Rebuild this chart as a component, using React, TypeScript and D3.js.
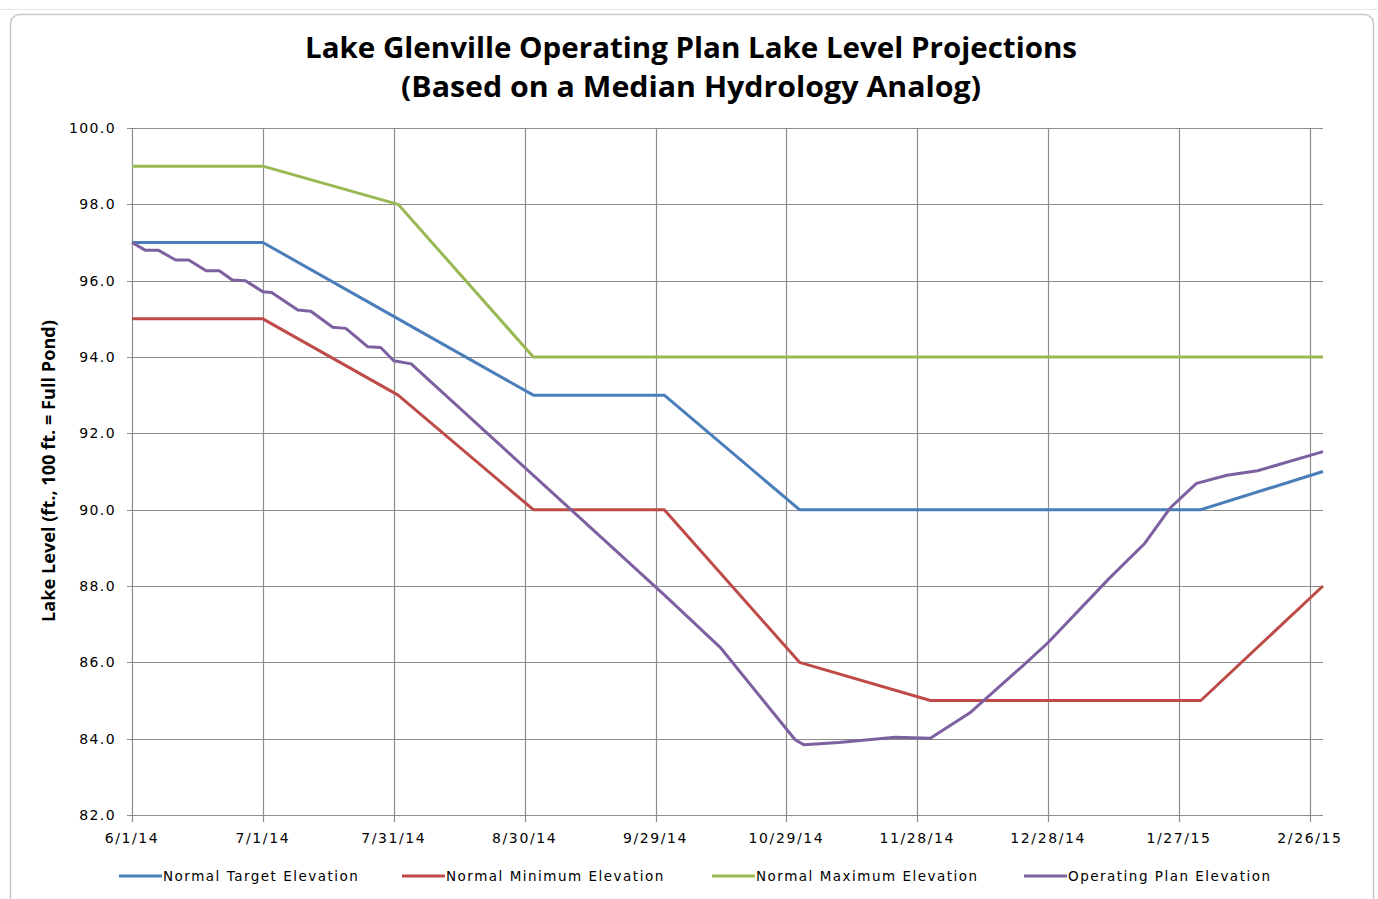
import React from "react";
import * as d3 from "d3";

const monthDates = ["6/1/14", "7/1/14", "8/1/14", "9/1/14", "10/1/14", "11/1/14", "12/1/14", "1/1/15", "2/1/15", "3/1/15"];
const targetValues = [97, 97, 95, 93, 93, 90, 90, 90, 90, 91];
const minimumValues = [95, 95, 93, 90, 90, 86, 85, 85, 85, 88];
const maximumValues = [99, 99, 98, 94, 94, 94, 94, 94, 94, 94];

const planDates = [
  "6/1/14", "6/4/14", "6/7/14", "6/11/14", "6/14/14", "6/18/14", "6/21/14", "6/24/14", "6/27/14",
  "7/1/14", "7/3/14", "7/9/14", "7/12/14", "7/17/14", "7/20/14", "7/25/14", "7/28/14", "7/31/14",
  "8/4/14", "10/1/14", "10/14/14", "10/31/14", "11/2/14", "11/10/14", "11/23/14", "12/1/14",
  "12/10/14", "12/22/14", "12/28/14", "1/11/15", "1/19/15", "1/25/15", "1/31/15", "2/7/15", "2/14/15", "3/1/15",
];
const planValues = [
  97.0, 96.8, 96.8, 96.54, 96.54, 96.26, 96.26, 96.02, 96.0,
  95.71, 95.69, 95.23, 95.2, 94.78, 94.75, 94.27, 94.25, 93.9,
  93.82, 87.77, 86.37, 83.97, 83.84, 83.9, 84.04, 84.01,
  84.67, 85.89, 86.52, 88.2, 89.1, 90.05, 90.69, 90.9, 91.02, 91.52,
];

const xTickLabels = ["6/1/14", "7/1/14", "7/31/14", "8/30/14", "9/29/14", "10/29/14", "11/28/14", "12/28/14", "1/27/15", "2/26/15"];
const xDomainLabels = ["6/1/14", "3/1/15"];
const yDomain = [82, 100];
const yTickStep = 2;

const seriesNames = ["Normal Target Elevation", "Normal Minimum Elevation", "Normal Maximum Elevation", "Operating Plan Elevation"];
const seriesColors = ["#4A7EBB", "#BE4B48", "#98B954", "#7D60A0"];

const titleLines = ["Lake Glenville Operating Plan Lake Level Projections", "(Based on a Median Hydrology Analog)"];
const yAxisTitle = "Lake Level (ft., 100 ft. = Full Pond)";

const parse = d3.utcParse("%m/%d/%y");

export default function App() {
  const W = 1378, H = 899;
  const left = 132, right = 1323, top = 128, bottom = 815;
  const x = d3.scaleUtc().domain(xDomainLabels.map((s) => parse(s) as Date)).range([left, right]);
  const y = d3.scaleLinear().domain(yDomain).range([bottom, top]);
  const yTicks = d3.range(yDomain[0], yDomain[1] + 0.001, yTickStep);
  const xTicks = xTickLabels.map((s) => parse(s) as Date);

  const line = d3
    .line<[Date, number]>()
    .x((d) => x(d[0]))
    .y((d) => y(d[1]));

  const monthly = monthDates.map((s) => parse(s) as Date);
  const series: [Date, number][][] = [
    monthly.map((d, i) => [d, targetValues[i]]),
    monthly.map((d, i) => [d, minimumValues[i]]),
    monthly.map((d, i) => [d, maximumValues[i]]),
    planDates.map((s, i) => [parse(s) as Date, planValues[i]]),
  ];

  const gridColor = "#8C8C8C";
  const tickFont = "'DejaVu Sans', Verdana, sans-serif";
  const titleFont = "'Open Sans', 'Noto Sans', sans-serif";

  const legendX = [119, 402, 712, 1024];

  return (
    <svg
      width={W}
      height={H}
      style={{ position: "absolute", left: 0, top: 0, background: "#fff" }}
    >
      <line x1={0} x2={W} y1={9.5} y2={9.5} stroke="#e6e6e6" />
      <rect x={10.5} y={14.5} width={1363} height={920} rx={9} fill="#fff" stroke="#c9c9c9" strokeWidth={1.5} />

      {titleLines.map((t, i) => (
        <text
          key={i}
          x={691}
          y={58 + i * 39}
          textAnchor="middle"
          fontFamily={titleFont}
          fontWeight="bold"
          fontSize={28}
          fill="#000"
          textLength={i === 0 ? 772 : 580}
          lengthAdjust="spacingAndGlyphs"
        >
          {t}
        </text>
      ))}

      {/* horizontal grid + y ticks */}
      {yTicks.map((v) => (
        <g key={v}>
          <line x1={left - 5} x2={right} y1={Math.round(y(v)) + 0.5} y2={Math.round(y(v)) + 0.5} stroke={gridColor} strokeWidth={1.2} />
          <text x={116} y={y(v) + 5} textAnchor="end" fontFamily={tickFont} fontSize={14} letterSpacing={1.4} fill="#000">
            {d3.format(".1f")(v)}
          </text>
        </g>
      ))}

      {/* vertical grid + x ticks */}
      {xTicks.map((d, i) => (
        <g key={i}>
          <line x1={Math.round(x(d)) + 0.5} x2={Math.round(x(d)) + 0.5} y1={top} y2={bottom + 7} stroke={gridColor} strokeWidth={1.2} />
          <text x={x(d)} y={843} textAnchor="middle" fontFamily={tickFont} fontSize={14} letterSpacing={1.6} fill="#000">
            {xTickLabels[i]}
          </text>
        </g>
      ))}

      {/* series */}
      {series.map((s, i) => (
        <path key={i} d={line(s) || ""} fill="none" stroke={seriesColors[i]} strokeWidth={3} strokeLinejoin="round" />
      ))}

      {/* y axis title */}
      <text
        transform={`translate(55, 471) rotate(-90)`}
        textAnchor="middle"
        fontFamily={titleFont}
        fontWeight="bold"
        fontSize={17}
        fill="#000"
        textLength={302}
        lengthAdjust="spacingAndGlyphs"
      >
        {yAxisTitle}
      </text>

      {/* legend */}
      {seriesNames.map((n, i) => (
        <g key={n}>
          <line x1={legendX[i]} x2={legendX[i] + 43} y1={876} y2={876} stroke={seriesColors[i]} strokeWidth={3} />
          <text x={legendX[i] + 44} y={881} fontFamily={tickFont} fontSize={13.5} fill="#000" letterSpacing={1.5}>
            {n}
          </text>
        </g>
      ))}
    </svg>
  );
}
